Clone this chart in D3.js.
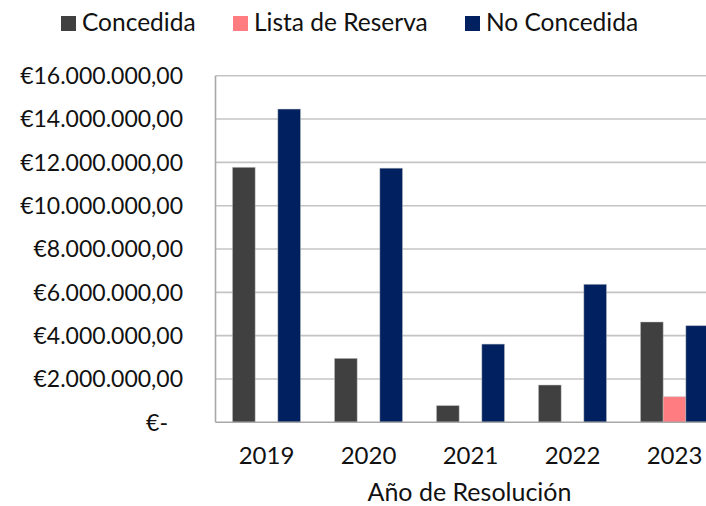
<!DOCTYPE html>
<html>
<head>
<meta charset="utf-8">
<script src="https://cdn.jsdelivr.net/npm/d3@7"></script>
<style>
  html, body { margin: 0; padding: 0; background: #fff; }
  svg { display: block; font-family: "Lato", "Open Sans", sans-serif; }
</style>
</head>
<body>
<svg id="chart" width="706" height="506"></svg>
<script>
// Importe por año de resolución y estado de la solicitud
const years = ["2019", "2020", "2021", "2022", "2023"];
const seriesNames = ["Concedida", "Lista de Reserva", "No Concedida"];
const concedida = [11770000, 2950000, 770000, 1720000, 4630000];
const listaReserva = [0, 0, 0, 0, 1180000];
const noConcedida = [14460000, 11730000, 3610000, 6370000, 4460000];
const yTicks = [0, 2000000, 4000000, 6000000, 8000000, 10000000, 12000000, 14000000, 16000000];
const colors = ["#404040", "#FF7C80", "#002060"];

const seriesValues = [concedida, listaReserva, noConcedida];

const svg = d3.select("#chart");
const margin = { left: 215.5, top: 75.7, right: 725.5, bottom: 422.3 };

const es = d3.formatLocale({ decimal: ",", thousands: ".", grouping: [3], currency: ["€", ""] });
const fmt = es.format(",.2f");

const x0 = d3.scaleBand().domain(years).range([margin.left, margin.right]).padding(0);
const x1 = d3.scaleBand().domain(seriesNames)
  .range([x0.bandwidth() / 6, x0.bandwidth() * 5 / 6]).padding(0);
const y = d3.scaleLinear().domain([0, 16000000]).range([margin.bottom, margin.top]);

// gridlines
svg.append("g")
  .selectAll("line")
  .data(yTicks.filter(d => d > 0))
  .join("line")
  .attr("x1", margin.left).attr("x2", margin.right)
  .attr("y1", d => y(d)).attr("y2", d => y(d))
  .attr("stroke", "#c4c4c4").attr("stroke-width", 1.6);

// y axis labels
const yAxis = d3.axisLeft(y).tickValues(yTicks).tickSize(0).tickPadding(0)
  .tickFormat(d => d === 0 ? "€-" : "€" + fmt(d));
const gy = svg.append("g").attr("transform", `translate(183,0)`).call(yAxis);
gy.select(".domain").remove();
gy.selectAll("text")
  .attr("font-size", 23).attr("fill", "#111")
  .attr("font-family", "Lato, 'Open Sans', sans-serif")
  .attr("dy", "0.34em")
  .attr("x", d => d === 0 ? -15 : 0);

// bars
const rows = years.map((yr, i) => ({ year: yr, vals: seriesNames.map((s, j) => ({ s, j, v: seriesValues[j][i] })) }));
const groups = svg.append("g").selectAll("g")
  .data(rows).join("g")
  .attr("transform", d => `translate(${x0(d.year)},0)`);
groups.selectAll("rect")
  .data(d => d.vals.filter(e => e.v > 0))
  .join("rect")
  .attr("x", d => x1(d.s))
  .attr("width", x1.bandwidth())
  .attr("y", d => y(d.v))
  .attr("height", d => y(0) - y(d.v))
  .attr("fill", d => colors[d.j])
  .attr("stroke", "#bfbfbf").attr("stroke-opacity", 0.6).attr("stroke-width", 0.8);

// axis lines
svg.append("line")
  .attr("x1", margin.left).attr("x2", margin.left)
  .attr("y1", margin.top).attr("y2", margin.bottom)
  .attr("stroke", "#a8a8a8").attr("stroke-width", 1.6);
svg.append("line")
  .attr("x1", margin.left).attr("x2", margin.right)
  .attr("y1", margin.bottom).attr("y2", margin.bottom)
  .attr("stroke", "#a8a8a8").attr("stroke-width", 1.6);

// x axis labels
const xAxis = d3.axisBottom(x0).tickSize(0).tickPadding(0);
const gx = svg.append("g").attr("transform", `translate(0,${margin.bottom})`).call(xAxis);
gx.select(".domain").remove();
gx.selectAll("text")
  .attr("font-size", 24).attr("fill", "#111")
  .attr("font-family", "Lato, 'Open Sans', sans-serif")
  .attr("dy", 0).attr("y", 42);

// axis title
svg.append("text")
  .attr("x", (margin.left + margin.right) / 2 - 1)
  .attr("y", 501)
  .attr("text-anchor", "middle")
  .attr("font-size", 25).attr("fill", "#111")
  .text("Año de Resolución");

// legend
const legendX = [61, 233, 465];
const lg = svg.append("g").selectAll("g")
  .data(seriesNames).join("g")
  .attr("transform", (d, i) => `translate(${legendX[i]},0)`);
lg.append("rect")
  .attr("x", 0).attr("y", 16).attr("width", 15).attr("height", 15)
  .attr("fill", (d, i) => colors[i]);
lg.append("text")
  .attr("x", 21).attr("y", 31)
  .attr("font-size", 24.5).attr("fill", "#111")
  .text(d => d);
</script>
</body>
</html>
